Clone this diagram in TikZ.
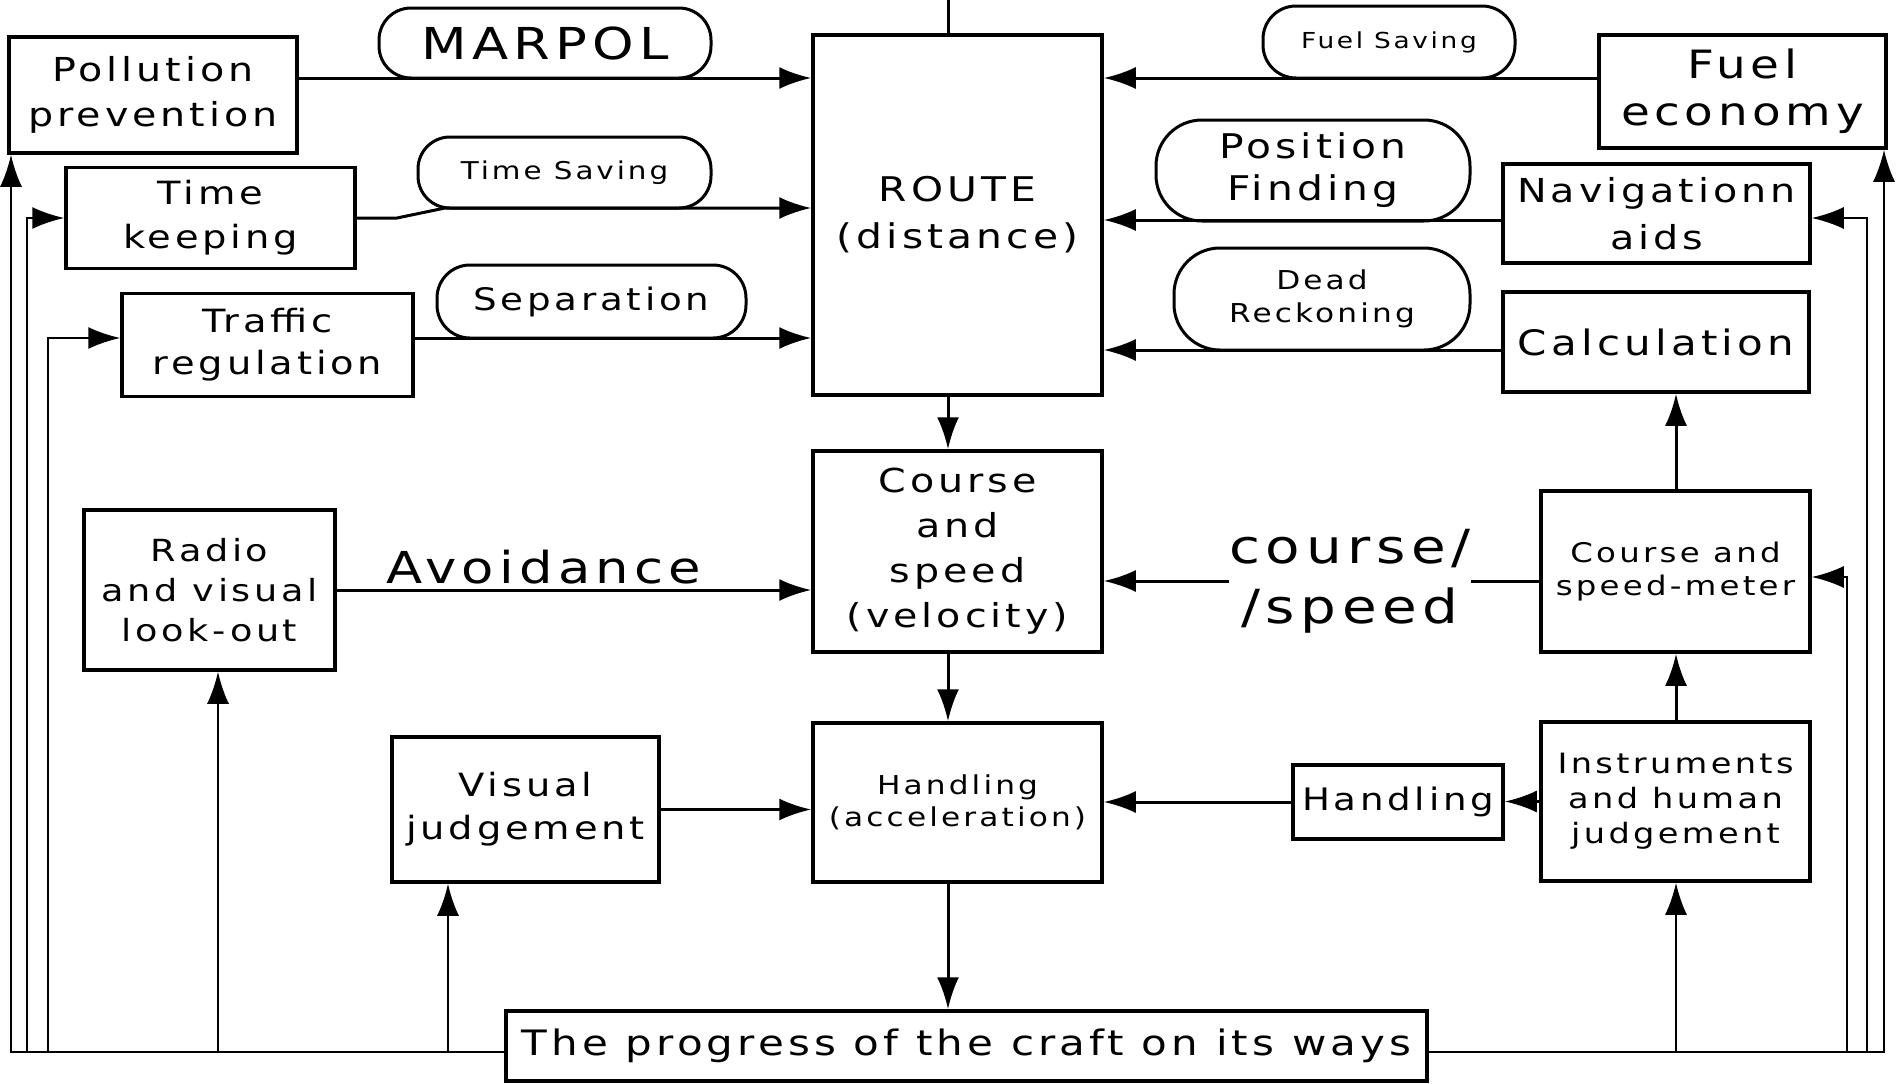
\documentclass[tikz,border=0pt]{standalone}
\usepackage{fontspec}
\usetikzlibrary{arrows.meta}
\newfontfamily\cadfont{DejaVu Sans}[FakeStretch=1.2,LetterSpace=12]
\newcommand\ff[2]{\cadfont\fontsize{#1}{#2}\selectfont}
\begin{document}
\begin{tikzpicture}[x=1pt,y=-1pt,
  box/.style={draw,line width=3.5pt,inner sep=0pt,align=center,minimum width=#1},
  pill/.style={draw,line width=3pt,inner sep=0pt,align=center,minimum width=#1},
  conn/.style={line width=3pt},
  arr/.style={line width=3pt,-{Latex[length=32pt,width=22pt]}},
  fb/.style={line width=2.4pt,-{Latex[length=32pt,width=22pt]}},
  fbl/.style={line width=2.4pt}]
\useasboundingbox (0,0) rectangle (1901,1084);
% boxes
\node[box=288,minimum height=116,font={\ff{33}{45}}] (poll) at (153,95) {Pollution\\prevention};
\node[box=289,minimum height=101,font={\ff{32}{44}}] (tk) at (210.5,218) {Time\\keeping};
\node[box=291,minimum height=103,font={\ff{32}{42}}] (tr) at (267.5,345) {Traffic\\regulation};
\node[box=289,minimum height=360,font={\ff{34}{47}}] (route) at (957.5,215) {ROUTE\\(distance)};
\node[box=287,minimum height=113,font={\ff{39}{47}}] (fuel) at (1742.5,91.5) {Fuel\\economy};
\node[box=307,minimum height=99,font={\ff{33}{47}}] (nav) at (1656.5,213.5) {Navigationn\\aids};
\node[box=306,minimum height=100,font={\ff{35}{42}}] (calc) at (1656,342) {Calculation};
\node[box=251,minimum height=160,font={\ff{30.5}{40}}] (radio) at (209.5,590) {Radio\\and visual\\look-out};
\node[box=289,minimum height=201,font={\ff{33}{45}}] (course) at (957.5,551.5) {Course\\and\\speed\\(velocity)};
\node[box=269,minimum height=161,font={\ff{27}{33}}] (csm) at (1675.5,571.5) {Course and\\speed-meter};
\node[box=267,minimum height=145,font={\ff{32}{43}}] (visual) at (525.5,809.5) {Visual\\judgement};
\node[box=289,minimum height=159,font={\ff{26}{32}}] (hacc) at (957.5,802.5) {Handling\\(acceleration)};
\node[box=210,minimum height=74,font={\ff{31}{38}}] (hand) at (1398,802) {Handling};
\node[box=269,minimum height=159,font={\ff{28}{35}}] (instr) at (1675.5,801.5) {Instruments\\and human\\judgement};
\node[box=921,minimum height=70,font={\ff{35}{40}}] (prog) at (966.5,1046) {The progress of the craft on its ways};
% rounded labels
\node[pill=332,minimum height=70,rounded corners=32pt,font={\ff{44}{50}}] (marpol) at (545,43) {MARPOL};
\node[pill=293,minimum height=71,rounded corners=32pt,font={\ff{24.5}{30}}] (tsave) at (564.5,172.5) {Time Saving};
\node[pill=309,minimum height=73,rounded corners=33pt,font={\ff{31}{36}}] (sep) at (591.5,301.5) {Separation};
\node[pill=252,minimum height=72,rounded corners=33pt,font={\ff{22}{28}}] (fsave) at (1389,42) {Fuel Saving};
\node[pill=314,minimum height=101,rounded corners=46pt,font={\ff{34}{42}}] (posf) at (1313,170.5) {Position\\Finding};
\node[pill=296,minimum height=102,rounded corners=46pt,font={\ff{26}{33}}] (dead) at (1322,299) {Dead\\Reckoning};
% free labels
\node[inner sep=0pt,anchor=base,font={\ff{44}{50}}] (avoid) at (544,583) {Avoidance};
\node[inner sep=0pt,align=center,font={\ff{47}{60}}] (csl) at (1350,581) {course/\\/speed};
% level coordinates
\coordinate (yA) at (0,78);
\coordinate (yB) at (0,208);
\coordinate (yC) at (0,338);
\coordinate (yD) at (0,220);
\coordinate (yE) at (0,350);
\coordinate (yN) at (0,218);
\coordinate (yS) at (0,577);
\coordinate (bot) at (0,1052);
\coordinate (cx) at (948,0);
\coordinate (l1) at (11,1052);
\coordinate (l2) at (27,1052);
\coordinate (l3) at (48,1052);
\coordinate (l4) at (218,1052);
\coordinate (l5) at (448,1052);
\coordinate (r1) at (1884,1052);
\coordinate (r2) at (1867,1052);
\coordinate (r3) at (1847,1052);
\coordinate (r4) at (1676,1052);
\coordinate (tkb) at (397,218);
\coordinate (tsb) at (445,208);
% into ROUTE from the left
\draw[arr] (poll.east |- yA) -- (route.west |- yA);
\draw[arr] (tk.east) -- (tkb) -- (tsb) -- (route.west |- yB);
\draw[arr] (tr.east |- yC) -- (route.west |- yC);
% into ROUTE from the right
\draw[arr] (fuel.west |- yA) -- (route.east |- yA);
\draw[arr] (nav.west |- yD) -- (route.east |- yD);
\draw[arr] (calc.west |- yE) -- (route.east |- yE);
% centre column
\draw[conn] (cx |- route.north) -- (cx);
\draw[arr] (cx |- route.south) -- (cx |- course.north);
\draw[arr] (cx |- course.south) -- (cx |- hacc.north);
\draw[arr] (cx |- hacc.south) -- (cx |- prog.north);
% middle rows
\draw[arr] (radio.east) -- (course.west |- radio.east);
\draw[conn] (csm.west |- csl.east) -- (csl.east);
\draw[arr] (csl.west) -- (course.east |- csl.west);
\draw[arr] (visual.east) -- (hacc.west |- visual.east);
\draw[arr] (instr.west) -- (hand.east |- instr.west);
\draw[arr] (hand.west) -- (hacc.east |- hand.west);
\draw[arr] (r4 |- instr.north) -- (r4 |- csm.south);
\draw[arr] (r4 |- csm.north) -- (r4 |- calc.south);
% feedback, left
\draw[fb] (prog.west |- bot) -| (l1 |- poll.south);
\draw[fb] (l2) |- (tk.west);
\draw[fb] (l3) |- (tr.west |- yC);
\draw[fb] (l4) -- (l4 |- radio.south);
\draw[fb] (l5) -- (l5 |- visual.south);
% feedback, right
\draw[fb] (prog.east |- bot) -| (r1 |- fuel.south);
\draw[fb] (r2) |- (nav.east |- yN);
\draw[fb] (r3) |- (csm.east |- yS);
\draw[fb] (r4) -- (r4 |- instr.south);
\end{tikzpicture}
\end{document}
